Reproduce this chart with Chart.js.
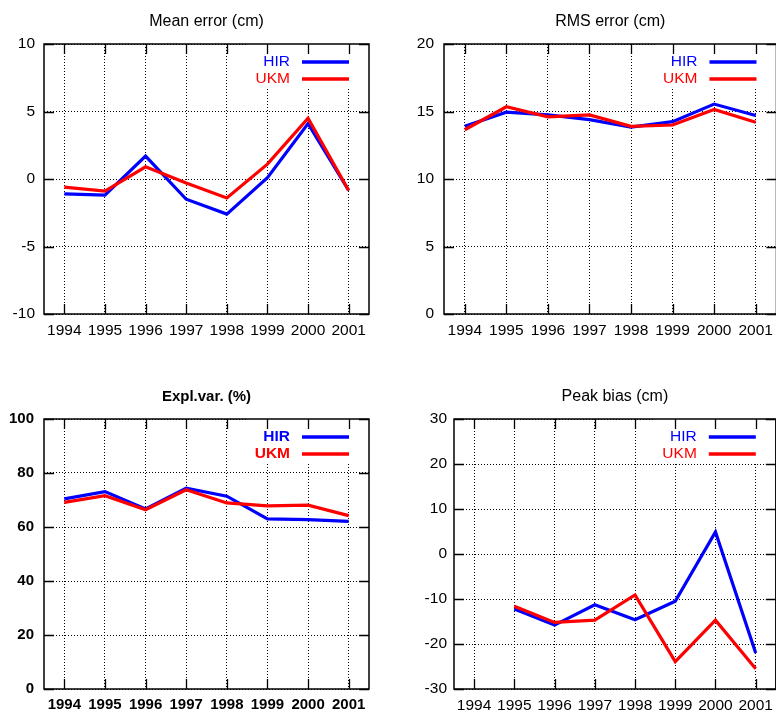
<!DOCTYPE html>
<html>
<head>
<meta charset="utf-8">
<script src="https://cdn.jsdelivr.net/npm/chart.js@4"></script>
<style>
  html, body { margin: 0; padding: 0; background: #fff; }
  body { width: 776px; height: 713px; overflow: hidden; position: relative; }
  canvas { position: absolute; }
</style>
</head>
<body>
<canvas id="mean" width="388" height="356" style="left:0;top:0"></canvas>
<canvas id="rms" width="392" height="356" style="left:388px;top:0"></canvas>
<canvas id="expl" width="388" height="357" style="left:0;top:356px"></canvas>
<canvas id="peak" width="392" height="357" style="left:388px;top:356px"></canvas>
<script>
// Verification years
const years = ['1994', '1995', '1996', '1997', '1998', '1999', '2000', '2001'];

// Mean error (cm)
const meanHIR = [-1.1, -1.2, 1.7, -1.5, -2.6, 0.1, 4.1, -0.85];
const meanUKM = [-0.6, -0.9, 0.9, -0.3, -1.4, 1.1, 4.5, -0.85];
const meanTicks = [-10, -5, 0, 5, 10];

// RMS error (cm)
const rmsHIR = [13.9, 14.95, 14.75, 14.4, 13.85, 14.25, 15.55, 14.7];
const rmsUKM = [13.65, 15.35, 14.6, 14.75, 13.9, 14.0, 15.15, 14.2];
const rmsTicks = [0, 5, 10, 15, 20];

// Explained variance (%)
const explHIR = [70.4, 73.1, 66.7, 74.4, 71.4, 63.0, 62.7, 62.1];
const explUKM = [69.1, 71.6, 66.4, 73.8, 68.9, 67.8, 68.1, 64.2];
const explTicks = [0, 20, 40, 60, 80, 100];

// Peak bias (cm), no 1994 value
const peakHIR = [null, -12.2, -15.8, -11.3, -14.6, -10.5, 4.9, -22.0];
const peakUKM = [null, -11.6, -15.2, -14.7, -9.1, -23.9, -14.7, -25.5];
const peakTicks = [-30, -20, -10, 0, 10, 20, 30];

const FONT = '"Liberation Sans", Arial, Helvetica, sans-serif';
Chart.defaults.font.family = FONT;
Chart.defaults.color = '#000';

function legendGeometry(chart, opts) {
  const a = chart.chartArea;
  const ctx = chart.ctx;
  const weight = opts.bold ? 'bold ' : '';
  ctx.save();
  ctx.font = weight + opts.legendSize + 'px ' + FONT;
  const textW = Math.max(...chart.data.datasets.map(ds => ctx.measureText(ds.label).width));
  ctx.restore();
  const lineEnd = a.right - 20;
  const lineStart = lineEnd - 47;
  const textRight = lineStart - 12;
  return { lineEnd, lineStart, textRight, boxLeft: textRight - textW - 8, weight };
}

// Title, opaque key, frame and inward ticks in the gnuplot style
const framePlugin = {
  id: 'frame',
  beforeDatasetsDraw(chart, args, opts) {
    // key area hides the grid behind it
    const { ctx, chartArea: a } = chart;
    const g = legendGeometry(chart, opts);
    ctx.save();
    ctx.fillStyle = '#fff';
    ctx.fillRect(g.boxLeft, a.top, a.right - g.boxLeft, 43);
    ctx.restore();
  },
  afterDraw(chart, args, opts) {
    const { ctx, chartArea: a } = chart;
    const xs = chart.scales.x, ys = chart.scales.y;
    const g = legendGeometry(chart, opts);
    ctx.save();

    // frame
    ctx.strokeStyle = '#000';
    ctx.lineWidth = 1.5;
    ctx.setLineDash([]);
    ctx.strokeRect(a.left, a.top, a.right - a.left, a.bottom - a.top);

    // inward ticks on all four sides
    const tl = 10;
    ctx.lineWidth = 1.3;
    ctx.beginPath();
    ys.ticks.forEach(t => {
      const y = Math.round(ys.getPixelForValue(t.value)) + 0.5;
      ctx.moveTo(a.left, y); ctx.lineTo(a.left + tl, y);
      ctx.moveTo(a.right, y); ctx.lineTo(a.right - tl, y);
    });
    xs.ticks.forEach((t, i) => {
      const x = Math.round(xs.getPixelForTick(i)) + 0.5;
      ctx.moveTo(x, a.bottom); ctx.lineTo(x, a.bottom - tl);
      ctx.moveTo(x, a.top); ctx.lineTo(x, a.top + tl);
    });
    ctx.stroke();

    // title
    ctx.fillStyle = '#000';
    ctx.font = g.weight + opts.titleSize + 'px ' + FONT;
    ctx.textAlign = 'center';
    ctx.textBaseline = 'middle';
    ctx.fillText(opts.title, (a.left + a.right) / 2, a.top - 22);

    // key: label right-aligned, line sample to its right
    ctx.font = g.weight + opts.legendSize + 'px ' + FONT;
    ctx.textAlign = 'right';
    chart.data.datasets.forEach((ds, i) => {
      const y = a.top + 18 + i * 17;
      ctx.fillStyle = ds.borderColor;
      ctx.fillText(ds.label, g.textRight, y);
      ctx.strokeStyle = ds.borderColor;
      ctx.lineWidth = 3.5;
      ctx.beginPath();
      ctx.moveTo(g.lineStart, y);
      ctx.lineTo(g.lineEnd, y);
      ctx.stroke();
    });
    ctx.restore();
  }
};

function makePanel(id, cfg) {
  const tickFont = { size: cfg.tickSize, weight: cfg.bold ? 'bold' : 'normal' };
  return new Chart(document.getElementById(id), {
    type: 'line',
    data: {
      labels: years,
      datasets: [
        { label: 'HIR', data: cfg.hir, borderColor: '#0000ff', borderWidth: 3.2, pointRadius: 0, tension: 0, order: 1 },
        { label: 'UKM', data: cfg.ukm, borderColor: '#ff0000', borderWidth: 3.2, pointRadius: 0, tension: 0, order: 0 }
      ]
    },
    options: {
      responsive: false,
      animation: false,
      devicePixelRatio: 1,
      layout: { padding: { top: cfg.top, right: cfg.right, left: 0, bottom: 0 } },
      plugins: {
        legend: { display: false },
        tooltip: { enabled: false },
        frame: { title: cfg.title, bold: cfg.bold, titleSize: cfg.titleSize, legendSize: 15.5 }
      },
      scales: {
        x: {
          type: 'category',
          offset: true,
          grid: { offset: false, color: '#000', lineWidth: 1, drawTicks: false },
          border: { display: false, dash: [1, 2] },
          ticks: { font: tickFont, padding: 7, maxRotation: 0, autoSkip: false, color: '#000' },
          afterFit(s) { s.height = cfg.xh; }
        },
        y: {
          min: cfg.ticks[0],
          max: cfg.ticks[cfg.ticks.length - 1],
          afterBuildTicks(s) { s.ticks = cfg.ticks.map(v => ({ value: v })); },
          grid: { color: '#000', lineWidth: 1, drawTicks: false },
          border: { display: false, dash: [1, 2] },
          ticks: { font: tickFont, padding: cfg.ypad, color: '#000' },
          afterFit(s) { s.width = cfg.yw; }
        }
      }
    },
    plugins: [framePlugin]
  });
}

makePanel('mean', { hir: meanHIR, ukm: meanUKM, ticks: meanTicks, title: 'Mean error (cm)',
  top: 44, right: 19, yw: 44, xh: 42, ypad: 9, tickSize: 15.5, titleSize: 16, bold: false });
makePanel('rms', { hir: rmsHIR, ukm: rmsUKM, ticks: rmsTicks, title: 'RMS error (cm)',
  top: 44, right: 1, yw: 56, xh: 42, ypad: 10, tickSize: 15.5, titleSize: 16, bold: false });
makePanel('expl', { hir: explHIR, ukm: explUKM, ticks: explTicks, title: 'Expl.var. (%)',
  top: 63, right: 19, yw: 44, xh: 24, ypad: 10, tickSize: 15, titleSize: 15, bold: true });
makePanel('peak', { hir: peakHIR, ukm: peakUKM, ticks: peakTicks, title: 'Peak bias (cm)',
  top: 63, right: 1, yw: 66, xh: 24, ypad: 7, tickSize: 15.5, titleSize: 16, bold: false });
</script>
</body>
</html>
